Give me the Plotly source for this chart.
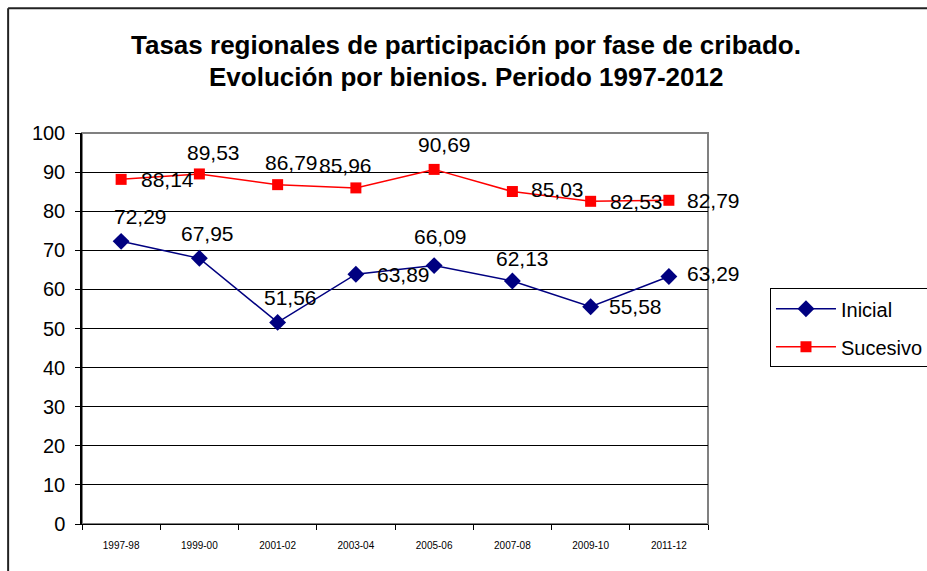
import plotly.graph_objects as go

categories = ["1997-98", "1999-00", "2001-02", "2003-04", "2005-06", "2007-08", "2009-10", "2011-12"]
inicial = [72.29, 67.95, 51.56, 63.89, 66.09, 62.13, 55.58, 63.29]
sucesivo = [88.14, 89.53, 86.79, 85.96, 90.69, 85.03, 82.53, 82.79]
y_ticks = [0, 10, 20, 30, 40, 50, 60, 70, 80, 90, 100]
title_lines = ["Tasas regionales de participación por fase de cribado.",
               "Evolución por bienios. Periodo 1997-2012"]

# label offsets in pixels (dx, dy with dy positive = up)
ini_off = [(19, 25), (8, 25), (13, 25), (48, 0), (6, 29), (10, 23), (45, 0), (45, 3)]
suc_off = [(46, 0), (14, 21), (14, 22), (-10, 22), (10, 25), (45, 2), (46, 0), (45, 0)]

FONT = "Liberation Sans, Arial, sans-serif"

def fmt(v):
    return f"{v:.2f}".replace(".", ",")

fig = go.Figure()
fig.add_trace(go.Scatter(
    x=categories, y=inicial, name="Inicial", mode="lines+markers",
    line=dict(color="#000080", width=1.5),
    marker=dict(symbol="diamond", size=13, color="#000080"),
    legendgroup="a"))
fig.add_trace(go.Scatter(
    x=categories, y=sucesivo, name="Sucesivo", mode="lines+markers",
    line=dict(color="#FF0000", width=1.5),
    marker=dict(symbol="square", size=11, color="#FF0000"),
    legendgroup="b"))

annotations = []
for vals, offs in ((inicial, ini_off), (sucesivo, suc_off)):
    for c, v, (dx, dy) in zip(categories, vals, offs):
        annotations.append(dict(
            x=c, y=v, xref="x", yref="y", text=fmt(v), showarrow=False,
            xshift=dx, yshift=dy, font=dict(family=FONT, size=21, color="black")))

for txt, yy in zip(title_lines, (1.225, 1.143)):
    annotations.append(dict(
        x=0.614, y=yy, xref="paper", yref="paper", xanchor="center", yanchor="middle",
        text=f"<b>{txt}</b>", showarrow=False,
        font=dict(family=FONT, size=26, color="black")))

fig.update_layout(
    width=927, height=571,
    margin=dict(l=82, r=219, t=133, b=47, autoexpand=False),
    paper_bgcolor="white", plot_bgcolor="white",
    font=dict(family=FONT, color="black"),
    showlegend=True,
    legend=dict(
        x=1.099, xanchor="left", y=0.603, yanchor="top",
        bordercolor="black", borderwidth=1, bgcolor="white",
        font=dict(family=FONT, size=20, color="black"),
        tracegroupgap=9, itemwidth=60),
    annotations=annotations,
    shapes=[
        dict(type="rect", xref="paper", yref="paper", x0=0, x1=1, y0=0, y1=1,
             line=dict(color="#808080", width=2), layer="below"),
        dict(type="line", xref="paper", yref="paper", x0=-0.118, x1=1.6, y0=1.319, y1=1.319,
             line=dict(color="#222222", width=2)),
        dict(type="line", xref="paper", yref="paper", x0=-0.118, x1=-0.118, y0=1.319, y1=-0.2,
             line=dict(color="#222222", width=2)),
    ],
)
fig.update_xaxes(
    type="category", categoryorder="array", categoryarray=categories,
    range=[-0.5, 7.5], tickson="boundaries", ticks="outside", ticklen=5,
    tickcolor="black", showline=True, linecolor="black", linewidth=1,
    showgrid=False, zeroline=False, automargin=False, ticklabelstandoff=12,
    tickfont=dict(family=FONT, size=10, color="black"))
fig.update_yaxes(
    range=[0, 100], tickvals=y_ticks, ticks="outside", ticklen=5,
    tickcolor="black", showline=True, linecolor="black", linewidth=1.5,
    showgrid=True, gridcolor="black", gridwidth=1, zeroline=False, automargin=False,
    ticklabelstandoff=6,
    tickfont=dict(family=FONT, size=20, color="black"))

fig.write_html(
    "out.html",
    config={"displayModeBar": False},
    post_script="document.body.style.margin='0';document.body.style.overflow='hidden';")
